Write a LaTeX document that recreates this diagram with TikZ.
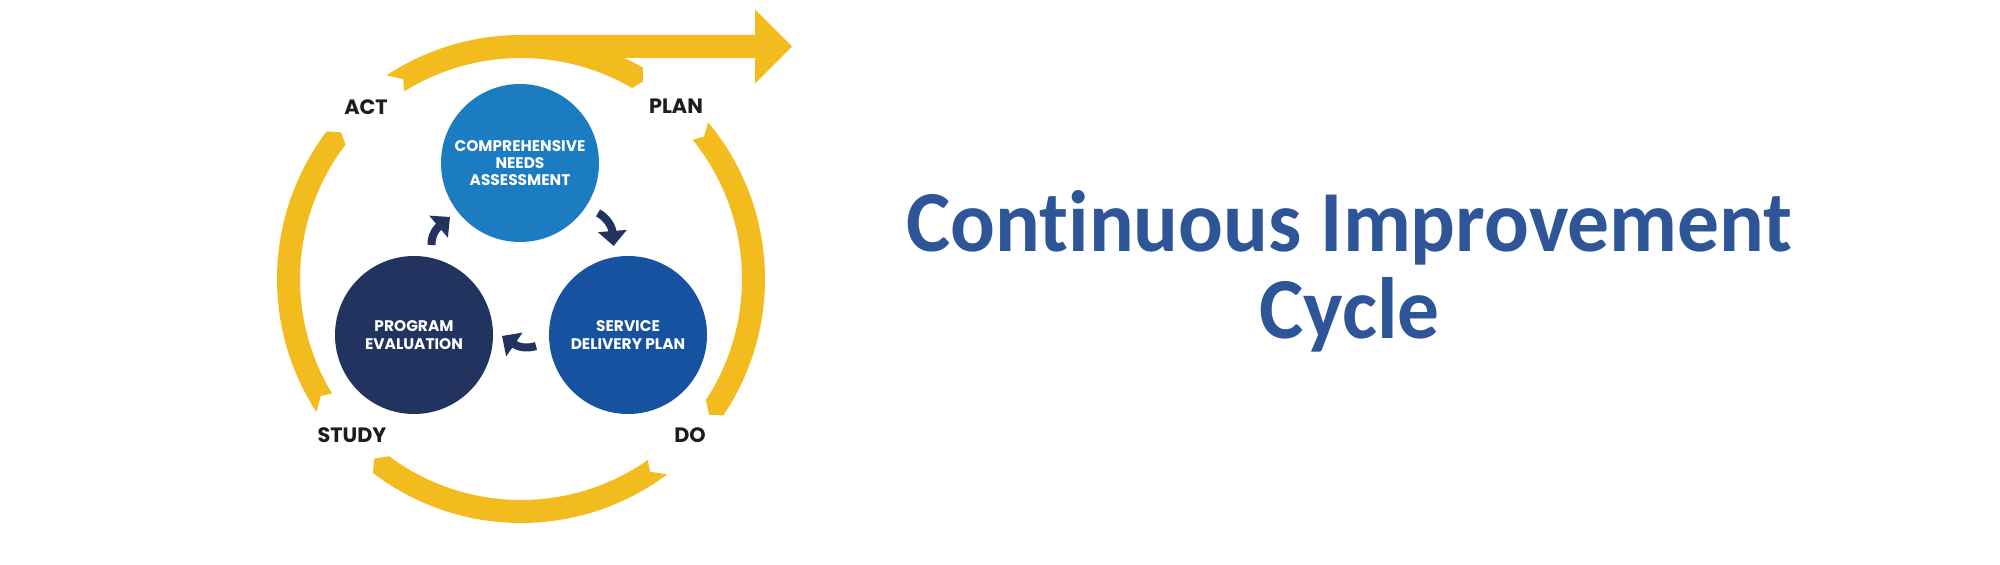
\documentclass[tikz,border=0pt]{standalone}
\usepackage{fontspec}
\usetikzlibrary{arrows.meta}
\newfontfamily\popfont{Poppins}
\newfontfamily\calfont{Carlito}[Ligatures=NoCommon, FakeStretch=0.96]
\definecolor{ringyellow}{HTML}{F2BB1E}
\definecolor{cnablue}{HTML}{1C7CC1}
\definecolor{sdpblue}{HTML}{1752A1}
\definecolor{penavy}{HTML}{223360}
\definecolor{titleblue}{HTML}{2E5597}
\definecolor{labelblack}{HTML}{1D1D1B}
\newcommand\ringseg[6]{%
  \fill[ringyellow] (#1:122pt) arc[start angle=#1, end angle=#4, radius=122pt]
    -- (#5:116pt) -- (#6:110.5pt) arc[start angle=#6, end angle=#3, radius=110.5pt]
    -- (#2:116pt) -- cycle;}
\begin{document}
\begin{tikzpicture}[x=0.5pt,y=0.5pt,
  phase/.style={circle, minimum size=79pt, inner sep=0pt, text=white, align=center,
    font=\popfont\bfseries\fontsize{7.7}{8.7}\selectfont},
  pdsa/.style={text=labelblack, inner sep=0pt, font=\popfont\bfseries\fontsize{10.4}{12}\selectfont},
  cyclearrow/.style={draw=penavy, line width=4pt, -{Triangle[width=14pt,length=7.5pt]}},
  titletext/.style={text=titleblue, inner sep=0pt, anchor=base, font=\calfont\bfseries\fontsize{43.5}{43.5}\selectfont}]
\fill[white] (0,0) rectangle (2000,-565);
\useasboundingbox (0,0) rectangle (2000,-565);
% outer PDSA ring
\begin{scope}[shift={(521,-279)}]
\ringseg{123.4}{120.5}{121.9}{60.0}{58.3}{59.8}
\ringseg{39.9}{37.9}{39.0}{-34.0}{-35.8}{-33.2}
\ringseg{-53.2}{-56.2}{-55.0}{-127.35}{-129.25}{-126.7}
\ringseg{213.0}{210.3}{211.2}{142.8}{140.8}{142.6}
\end{scope}
% straight outgoing arrow
\fill[ringyellow] (521,-35) -- (755,-35) -- (755,-9.3) -- (792,-46.5) -- (755,-83.5) -- (755,-58) -- (521,-58) -- cycle;
% phase circles
\node[phase, fill=cnablue] (cna) at (520,-163) {COMPREHENSIVE\\NEEDS\\ASSESSMENT};
\node[phase, fill=penavy] (pe) at (414,-335) {PROGRAM\\EVALUATION};
\node[phase, fill=sdpblue] (sdp) at (628,-335) {SERVICE\\DELIVERY PLAN};
% PDSA labels
\node[pdsa] (act) at (366,-106.7) {ACT};
\node[pdsa] (plan) at (676,-106.7) {PLAN};
\node[pdsa] (study) at (352,-435.5) {STUDY};
\node[pdsa] (do) at (690,-435.5) {DO};
% small cycle arrows
\coordinate (a1s) at (598,-213);
\coordinate (a1e) at (613.6,-246);
\draw[cyclearrow] (a1s) .. controls (606,-217) and (612,-226) .. (a1e);
\coordinate (a2s) at (536,-346);
\coordinate (a2e) at (502,-336);
\draw[cyclearrow] (a2s) .. controls (527,-349) and (518,-347) .. (a2e);
\coordinate (a3s) at (431.5,-245);
\coordinate (a3e) at (450,-217);
\draw[cyclearrow] (a3s) .. controls (431,-235) and (437,-228) .. (a3e);
% title
\node[titletext] (title1) at (1349.5,-252) {Continuous Improvement};
\node[titletext] (title2) at (1349.5,-339) {Cycle};
\end{tikzpicture}
\end{document}
